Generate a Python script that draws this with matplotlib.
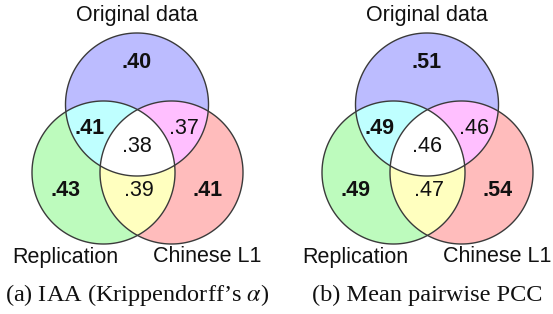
import numpy as np
import matplotlib
matplotlib.use("Agg")
import matplotlib.pyplot as plt
from matplotlib.patches import Polygon

plt.rcParams["mathtext.fontset"] = "stix"

# ---- data ----
set_names = ["Original data", "Replication", "Chinese L1"]
captions = ["(a) IAA (Krippendorff\u2019s $\\alpha$)", "(b) Mean pairwise PCC"]
# region order: O only, R only, C only, O&R, O&C, R&C, all
region_keys = ["O", "R", "C", "OR", "OC", "RC", "ORC"]
iaa_values = [".40", ".43", ".41", ".41", ".37", ".39", ".38"]
pcc_values = [".51", ".49", ".54", ".49", ".46", ".47", ".46"]
bold_regions = ["O", "R", "C", "OR"]
panel_values = [iaa_values, pcc_values]

# ---- layout (pixel coordinates) ----
W, H = 553, 314
R = 71.5
panel_dx = [0, 290]
centers = {"O": (137, 104.5), "R": (103.5, 172.5), "C": (171.5, 172.5)}
label_pos = {"O": (137, 62), "R": (65, 191), "C": (208, 191),
             "OR": (90, 128), "OC": (184, 128), "RC": (139, 191), "ORC": (137, 146)}
name_pos = [(137, 15), (65, 257), (207, 257)]
caption_pos = (137, 295)

colors = {"O": "#bcbcff", "R": "#bdfbbd", "C": "#ffbcbc",
          "OR": "#bfffff", "OC": "#ffbfff", "RC": "#ffffbf", "ORC": "#ffffff"}


def circle_poly(c, r, n=720):
    t = np.linspace(0, 2 * np.pi, n, endpoint=False)
    return np.column_stack([c[0] + r * np.cos(t), c[1] + r * np.sin(t)])


def clip(subject, clipper):
    out = list(subject)
    m = len(clipper)
    for i in range(m):
        a = clipper[i]
        b = clipper[(i + 1) % m]
        inp = out
        out = []
        if not inp:
            break

        def inside(p):
            return (b[0] - a[0]) * (p[1] - a[1]) - (b[1] - a[1]) * (p[0] - a[0]) >= 0

        def inter(p, q):
            d1 = np.array(q) - np.array(p)
            d2 = b - a
            denom = d1[0] * d2[1] - d1[1] * d2[0]
            t = ((a[0] - p[0]) * d2[1] - (a[1] - p[1]) * d2[0]) / denom
            return np.array(p) + t * d1

        s = inp[-1]
        for e in inp:
            if inside(e):
                if not inside(s):
                    out.append(inter(s, e))
                out.append(e)
            elif inside(s):
                out.append(inter(s, e))
            s = e
    return np.array(out)


fig = plt.figure(figsize=(W / 100, H / 100), dpi=100)
ax = fig.add_axes([0, 0, 1, 1])
ax.set_xlim(0, W)
ax.set_ylim(H, 0)
ax.set_aspect("equal")
ax.axis("off")

sans = ["Liberation Sans", "DejaVu Sans"]
serif = ["Liberation Serif", "DejaVu Serif"]
edge = "#3a3a3a"

for p, dx in enumerate(panel_dx):
    polys = {k: circle_poly((centers[k][0] + dx, centers[k][1]), R) for k in ["O", "R", "C"]}
    for k in ["O", "R", "C"]:
        ax.add_patch(Polygon(polys[k], closed=True, fc=colors[k], ec="none"))
    for k in ["OR", "OC", "RC"]:
        reg = clip(polys[k[0]], polys[k[1]])
        ax.add_patch(Polygon(reg, closed=True, fc=colors[k], ec="none"))
    reg = clip(clip(polys["O"], polys["R"]), polys["C"])
    ax.add_patch(Polygon(reg, closed=True, fc=colors["ORC"], ec="none"))
    for k in ["O", "R", "C"]:
        ax.add_patch(Polygon(polys[k], closed=True, fc="none", ec=edge, lw=1.0))

    for key, val in zip(region_keys, panel_values[p]):
        x, y = label_pos[key]
        ax.text(x + dx, y, val, ha="center", va="center", fontsize=15.5,
                family=sans, color="#111111",
                fontweight="bold" if key in bold_regions else "normal")
    for name, (x, y) in zip(set_names, name_pos):
        ax.text(x + dx, y, name, ha="center", va="center", fontsize=15.5,
                family=sans, color="#111111")
    ax.text(caption_pos[0] + dx, caption_pos[1], captions[p], ha="center", va="center",
            fontsize=17.5, family=serif, color="#111111")

fig.savefig("out.png", dpi=100)
